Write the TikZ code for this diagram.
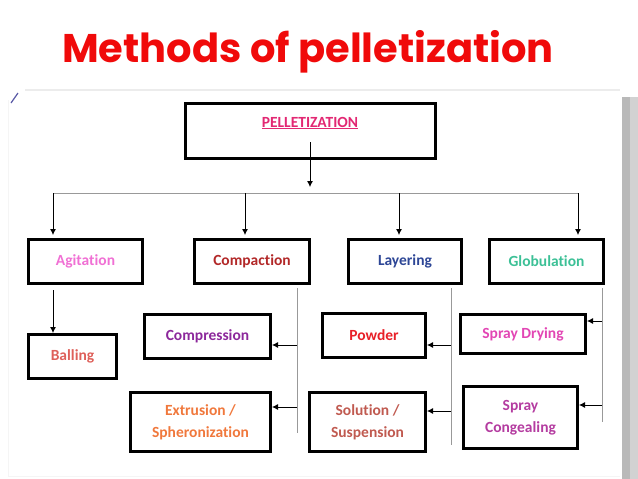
\documentclass[tikz,border=0pt]{standalone}
\usepackage{fontspec}
\usepackage{tikz}
\usetikzlibrary{arrows.meta}
\setmainfont{Carlito}[Ligatures={NoCommon}]
\newfontfamily\titlefont{Poppins}

\definecolor{titlered}{RGB}{240,10,10}
\definecolor{pellpink}{RGB}{226,40,115}
\definecolor{agipink}{RGB}{240,112,212}
\definecolor{compred}{RGB}{178,40,40}
\definecolor{layblue}{RGB}{45,70,150}
\definecolor{globgreen}{RGB}{60,192,150}
\definecolor{ballred}{RGB}{222,96,90}
\definecolor{cmprpurple}{RGB}{140,40,155}
\definecolor{extrorange}{RGB}{240,120,60}
\definecolor{powred}{RGB}{232,32,40}
\definecolor{solbrown}{RGB}{192,90,80}
\definecolor{spdpink}{RGB}{226,70,180}
\definecolor{spcpurple}{RGB}{180,60,160}

\tikzset{
  box/.style={draw=black, line width=3pt, inner sep=2pt, align=center,
    font=\fontsize{15.5}{22}\selectfont\bfseries},
  arr/.style={-{Latex[length=6pt,width=6pt]}, thick},
  bus/.style={gray!80, line width=0.8pt},
}

\begin{document}
\begin{tikzpicture}[x=1pt,y=-1pt]
        \useasboundingbox (0,0) rectangle (638,479);
        % slide frame
        \draw [gray!15, line width=1.5pt] (25,90) -- (620,90);
        \draw [gray!8, line width=1pt] (8,100) -- (8,476) -- (620,476);
        \draw [gray!70!blue, line width=1.2pt] (11,103) -- (18,93);
        \fill [gray!55] (622,97) rectangle (638,479);
        \fill [gray!35] (630,97) rectangle (638,479);
        % title
        \node (title) at (308,52) {\titlefont\fontsize{40}{46}\selectfont\bfseries\color{titlered}Methods of pelletization};
        % top box
        \node [box, minimum width=250pt, minimum height=55pt] (pell) at (310.5,131) {};
        \node [font=\fontsize{15.5}{18}\selectfont\bfseries, text=pellpink] (pelltext) at (310,123) {\underline{PELLETIZATION}};
        \coordinate (pellout) at (310,142);
        % first level
        \node [box, minimum width=114pt, minimum height=44pt, text=agipink] (agi) at (85.5,261.5) {Agitation};
        \node [box, minimum width=115pt, minimum height=44pt, text=compred] (comp) at (252,261.5) {Compaction};
        \node [box, minimum width=113pt, minimum height=44pt, text=layblue] (lay) at (405,261.5) {Layering};
        \node [box, minimum width=114pt, minimum height=44pt, text=globgreen] (glob) at (546.5,261.5) {Globulation};
        % bus
        \coordinate (b1) at (53,193);
        \coordinate (b2) at (245,193);
        \coordinate (b3) at (399,193);
        \coordinate (b4) at (578,193);
        \draw [bus] (b1) -- (b4);
        \draw [arr] (pellout) -- (310,187);
        \foreach \b/\n in {b1/agi, b2/comp, b3/lay, b4/glob}
            \draw [arr, shorten >=3pt] (\b) -- (\b |- \n.north);
        % agitation
        \node [box, minimum width=88pt, minimum height=44pt, text=ballred] (ball) at (72.5,356.5) {Balling};
        \coordinate (atop) at (53,290);
        \draw [arr] (atop) -- (atop |- ball.north);
        % compaction
        \node [box, minimum width=126pt, minimum height=44pt, text=cmprpurple] (cmpr) at (207.5,336.5) {Compression};
        \node [box, minimum width=140pt, minimum height=59pt, text=extrorange] (extr) at (200.5,422) {Extrusion /\\Spheronization};
        \coordinate (ctop) at (297,288);
        \coordinate (cbot) at (297,433);
        \coordinate (c1) at (297,345);
        \coordinate (c2) at (297,407);
        \draw [bus] (ctop) -- (cbot);
        \draw [arr] (c1) -- (c1 -| cmpr.east);
        \draw [arr] (c2) -- (c2 -| extr.east);
        % layering
        \node [box, minimum width=103pt, minimum height=44pt, text=powred] (pow) at (374,335.5) {Powder};
        \node [box, minimum width=116pt, minimum height=59pt, text=solbrown] (sol) at (367.5,422) {Solution /\\Suspension};
        \coordinate (ltop) at (451,288);
        \coordinate (lbot) at (451,445);
        \coordinate (l1) at (451,345);
        \coordinate (l2) at (451,411);
        \draw [bus] (ltop) -- (lbot);
        \draw [arr] (l1) -- (l1 -| pow.east);
        \draw [arr] (l2) -- (l2 -| sol.east);
        % globulation
        \node [box, minimum width=125pt, minimum height=39pt, text=spdpink] (spd) at (523,334) {Spray Drying};
        \node [box, minimum width=114pt, minimum height=62pt, text=spcpurple] (spc) at (520.5,417.5) {Spray\\Congealing};
        \coordinate (gtop) at (602,288);
        \coordinate (gbot) at (602,422);
        \coordinate (g1) at (602,321);
        \coordinate (g2) at (602,405);
        \draw [bus] (gtop) -- (gbot);
        \draw [arr] (g1) -- (g1 -| spd.east);
        \draw [arr] (g2) -- (g2 -| spc.east);
    \end{tikzpicture}
\end{document}
